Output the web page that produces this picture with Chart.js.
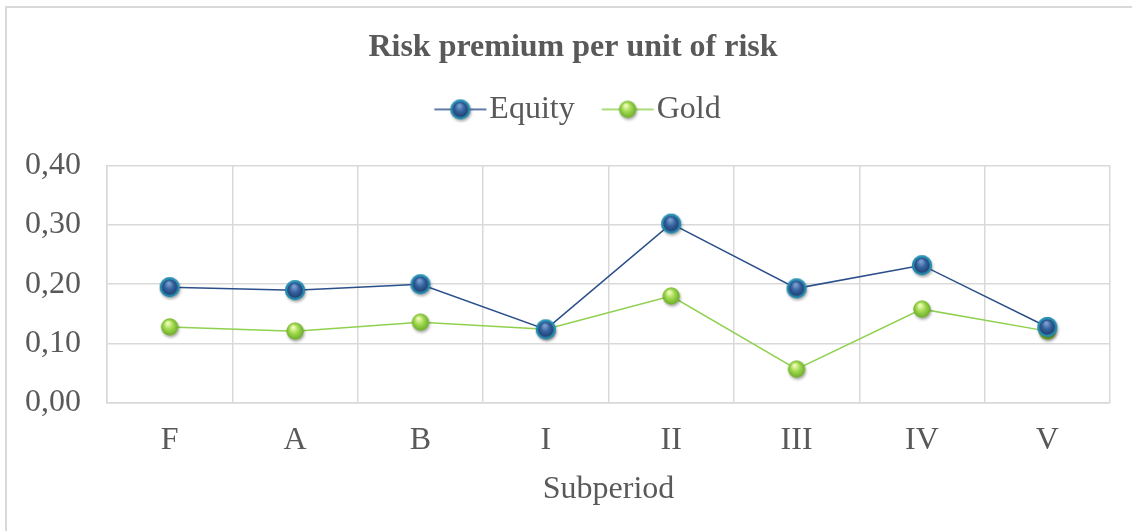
<!DOCTYPE html>
<html>
<head>
<meta charset="utf-8">
<script src="https://cdn.jsdelivr.net/npm/chart.js@4/dist/chart.umd.min.js"></script>
<style>
    body { margin: 0; background: #fff; }
    #marco { position: absolute; left: 5px; top: 6px; width: 1200px; height: 600px;
             border-left: 2px solid #d9d9d9; border-top: 2px solid #d9d9d9; }
    #contenedor { position: absolute; left: 0; top: 0; width: 1132px; height: 531px; }
</style>
</head>
<body>
<div id="marco"></div>
<div id="contenedor"><canvas id="graficoRiesgo"></canvas></div>
<script>
// Datos
const categorias = ['F', 'A', 'B', 'I', 'II', 'III', 'IV', 'V'];
const valoresEquity = [0.195, 0.190, 0.200, 0.124, 0.302, 0.193, 0.232, 0.128];
const valoresGold = [0.128, 0.121, 0.136, 0.124, 0.180, 0.057, 0.158, 0.121];
const etiquetasY = ['0,00', '0,10', '0,20', '0,30', '0,40'];

const colorTexto = '#595959';
const colorRejilla = '#d9d9d9';
const fuente = 'Liberation Serif';

// Dibuja la esfera de un marcador
function dibujarEsfera(ctx, cx, cy, tipo) {
    if (tipo === 'equity') {
        ctx.save();
        ctx.shadowColor = 'rgba(0,0,0,0.35)';
        ctx.shadowBlur = 3;
        ctx.shadowOffsetX = 1;
        ctx.shadowOffsetY = 2;
        ctx.beginPath();
        ctx.arc(cx, cy, 10, 0, Math.PI * 2);
        ctx.fillStyle = '#2a9cc2';
        ctx.fill();
        ctx.restore();

        let borde = ctx.createRadialGradient(cx, cy - 3, 1, cx, cy, 10);
        borde.addColorStop(0, '#8fdcf0');
        borde.addColorStop(0.6, '#33a8cc');
        borde.addColorStop(1, '#1d7fa3');
        ctx.beginPath();
        ctx.arc(cx, cy, 10, 0, Math.PI * 2);
        ctx.fillStyle = borde;
        ctx.fill();

        let centro = ctx.createRadialGradient(cx - 1, cy - 4, 1, cx, cy, 8);
        centro.addColorStop(0, '#7b9fd0');
        centro.addColorStop(0.5, '#34629f');
        centro.addColorStop(1, '#223f70');
        ctx.beginPath();
        ctx.arc(cx, cy, 7.8, 0, Math.PI * 2);
        ctx.fillStyle = centro;
        ctx.fill();
    } else {
        ctx.save();
        ctx.shadowColor = 'rgba(0,0,0,0.35)';
        ctx.shadowBlur = 3;
        ctx.shadowOffsetX = 1;
        ctx.shadowOffsetY = 2;
        ctx.beginPath();
        ctx.arc(cx, cy, 8.5, 0, Math.PI * 2);
        ctx.fillStyle = '#86c53a';
        ctx.fill();
        ctx.restore();

        let bola = ctx.createRadialGradient(cx - 2, cy - 4, 1, cx, cy, 9);
        bola.addColorStop(0, '#eefbb8');
        bola.addColorStop(0.45, '#a2da4e');
        bola.addColorStop(1, '#68a82a');
        ctx.beginPath();
        ctx.arc(cx, cy, 8.5, 0, Math.PI * 2);
        ctx.fillStyle = bola;
        ctx.fill();
    }
}

// Imagen del marcador para los puntos
function crearMarcador(tipo) {
    const c = document.createElement('canvas');
    c.width = 28;
    c.height = 28;
    dibujarEsfera(c.getContext('2d'), 14, 14, tipo);
    return c;
}

// Imagen de la leyenda: línea con marcador
function crearLeyenda(tipo, color) {
    const c = document.createElement('canvas');
    c.width = 56;
    c.height = 28;
    const ctx = c.getContext('2d');
    ctx.strokeStyle = color;
    ctx.lineWidth = 1.5;
    ctx.beginPath();
    ctx.moveTo(2, 14);
    ctx.lineTo(54, 14);
    ctx.stroke();
    dibujarEsfera(ctx, 28, 14, tipo);
    return c;
}

const colorEquity = '#2b4f8a';
const colorGold = '#8fd14f';

const marcadorEquity = crearMarcador('equity');
const marcadorGold = crearMarcador('gold');
const leyendaEquity = crearLeyenda('equity', colorEquity);
const leyendaGold = crearLeyenda('gold', colorGold);

// Espacio extra debajo de la leyenda; título y leyenda desplazados a la derecha
const ajusteLeyenda = {
    id: 'ajusteLeyenda',
    beforeInit: function(chart) {
        const ajusteOriginal = chart.legend.fit;
        chart.legend.fit = function() {
            ajusteOriginal.bind(chart.legend)();
            this.height += 30;
        };
    },
    afterLayout: function(chart) {
        chart.legend.left += 29;
        chart.legend.right += 29;
        chart.titleBlock.left += 18;
        chart.titleBlock.right += 18;
    }
};

function generarGraficoRiesgo() {
    const ctx = document.getElementById('graficoRiesgo').getContext('2d');

    const data = {
        labels: categorias,
        datasets: [{
            label: 'Equity',
            data: valoresEquity,
            borderColor: colorEquity,
            borderWidth: 1.5,
            pointStyle: marcadorEquity,
            pointRadius: 10,
            tension: 0
        }, {
            label: 'Gold',
            data: valoresGold,
            borderColor: colorGold,
            borderWidth: 1.5,
            pointStyle: marcadorGold,
            pointRadius: 9,
            tension: 0
        }]
    };

    const config = {
        type: 'line',
        data: data,
        plugins: [ajusteLeyenda],
        options: {
            responsive: true,
            maintainAspectRatio: false,
            animation: false,
            layout: {
                padding: { left: 0, right: 22, top: 0, bottom: 0 }
            },
            scales: {
                x: {
                    offset: true,
                    grid: {
                        offset: true,
                        color: colorRejilla,
                        lineWidth: 1.5,
                        drawTicks: false
                    },
                    border: { color: colorRejilla, width: 1.5 },
                    ticks: {
                        color: colorTexto,
                        padding: 18,
                        font: { family: fuente, size: 32 }
                    },
                    title: {
                        display: true,
                        text: 'Subperiod',
                        color: colorTexto,
                        padding: { top: 0, bottom: 22 },
                        font: { family: fuente, size: 32 }
                    },
                    afterFit: function(scale) {
                        scale.height = 531 - 403;
                    }
                },
                y: {
                    min: 0,
                    max: 0.4,
                    grid: {
                        color: colorRejilla,
                        lineWidth: 1.5,
                        drawTicks: false
                    },
                    border: { color: colorRejilla, width: 1.5 },
                    ticks: {
                        stepSize: 0.1,
                        color: colorTexto,
                        padding: 26,
                        font: { family: fuente, size: 32 },
                        callback: function(value, index) {
                            return etiquetasY[index];
                        }
                    },
                    afterFit: function(scale) {
                        scale.width = 107;
                    }
                }
            },
            plugins: {
                title: {
                    display: true,
                    text: 'Risk premium per unit of risk',
                    color: colorTexto,
                    padding: { top: 29, bottom: -14 },
                    font: { family: fuente, size: 32, weight: 'bold' }
                },
                legend: {
                    display: true,
                    labels: {
                        color: colorTexto,
                        usePointStyle: true,
                        pointStyleWidth: 26,
                        padding: 40,
                        font: { family: fuente, size: 32 },
                        generateLabels: function(chart) {
                            const items = Chart.defaults.plugins.legend.labels.generateLabels(chart);
                            items[0].pointStyle = leyendaEquity;
                            items[1].pointStyle = leyendaGold;
                            return items;
                        }
                    }
                },
                tooltip: { enabled: false }
            }
        }
    };

    new Chart(ctx, config);
}

document.addEventListener('DOMContentLoaded', function() {
    if (typeof Chart !== 'undefined') {
        generarGraficoRiesgo();
    } else {
        console.error('Chart.js no está cargado.');
    }
});
</script>
</body>
</html>
